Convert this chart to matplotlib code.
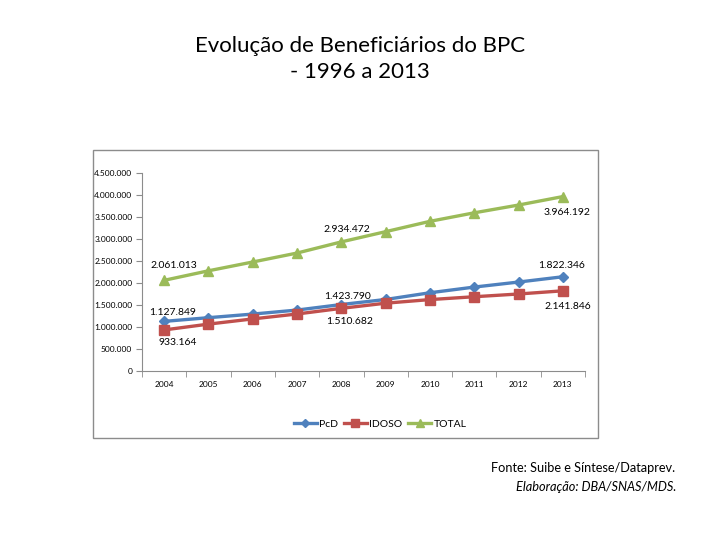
import matplotlib.pyplot as plt
from matplotlib.patches import Rectangle

plt.rcParams['font.family'] = ['Lato', 'DejaVu Sans']

# data
years = ['2004', '2005', '2006', '2007', '2008', '2009', '2010', '2011', '2012', '2013']
pcd = [1127849, 1211761, 1293645, 1385107, 1510682, 1625625, 1778345, 1907511, 2021721, 2141846]
idoso = [933164, 1065604, 1183840, 1295716, 1423790, 1541220, 1623196, 1687826, 1750121, 1822346]
total = [2061013, 2277365, 2477485, 2680823, 2934472, 3166845, 3401541, 3595337, 3771842, 3964192]
yticks = [0, 500000, 1000000, 1500000, 2000000, 2500000, 3000000, 3500000, 4000000, 4500000]
ytick_labels = ['0', '500.000', '1.000.000', '1.500.000', '2.000.000', '2.500.000',
                '3.000.000', '3.500.000', '4.000.000', '4.500.000']

# labels shown on the chart: (series, year index, text, offset in px)
point_labels = [
    ('total', 0, '2.061.013', (10, 15)),
    ('pcd', 0, '1.127.849', (8, 9)),
    ('idoso', 0, '933.164', (14, -13)),
    ('total', 4, '2.934.472', (6, 12)),
    ('pcd', 4, '1.423.790', (6, 8)),
    ('idoso', 4, '1.510.682', (8, -13)),
    ('total', 9, '3.964.192', (4, -16)),
    ('pcd', 9, '1.822.346', (-1, 11)),
    ('idoso', 9, '2.141.846', (5, -16)),
]

W, H = 720, 540
fig = plt.figure(figsize=(7.2, 5.4), dpi=100)

# chart frame
fig.patches.append(Rectangle((93 / W, 1 - 438 / H), (598 - 93) / W, (438 - 150) / H,
                             transform=fig.transFigure, fill=False,
                             edgecolor='#8c8c8c', linewidth=1.0))

ax = fig.add_axes([142 / W, 1 - 371 / H, (585 - 142) / W, (371 - 173) / H])
x = list(range(len(years)))
series = {
    'pcd': ax.plot(x, pcd, color='#4F81BD', lw=2.4, marker='D', ms=5, label='PcD')[0],
    'idoso': ax.plot(x, idoso, color='#C0504D', lw=2.4, marker='s', ms=6.5, label='IDOSO')[0],
    'total': ax.plot(x, total, color='#9BBB59', lw=2.4, marker='^', ms=7.5, label='TOTAL')[0],
}
values = {'pcd': pcd, 'idoso': idoso, 'total': total}

for key, i, txt, off in point_labels:
    ax.annotate(txt, (x[i], values[key][i]), xytext=off, textcoords='offset pixels',
                ha='center', va='center', fontsize=7.5, color='#000000')

ax.set_xlim(-0.5, len(years) - 0.5)
ax.set_ylim(0, 4500000)
ax.set_yticks(yticks)
ax.set_yticklabels(ytick_labels, fontsize=6)
ax.set_xticks(x)
ax.set_xticklabels(years, fontsize=6)
ax.set_xticks([i - 0.5 for i in range(len(years) + 1)], minor=True)
ax.tick_params(axis='x', which='major', length=0, pad=7)
ax.tick_params(axis='x', which='minor', length=4, color='#8c8c8c')
ax.tick_params(axis='y', length=4, color='#8c8c8c', pad=3)
for s in ['top', 'right']:
    ax.spines[s].set_visible(False)
for s in ['left', 'bottom']:
    ax.spines[s].set_color('#8c8c8c')
    ax.spines[s].set_linewidth(0.8)

fig.legend(handles=[series['pcd'], series['idoso'], series['total']], loc='center',
           bbox_to_anchor=(380 / W, 1 - 424 / H), ncol=3, frameon=False, fontsize=7.5,
           handlelength=2.2, handletextpad=0.2, columnspacing=0.6, markerscale=0.8)

# title and source
fig.text(360 / W, 1 - 46 / H, 'Evolução de Beneficiários do BPC', ha='center', va='center',
         fontsize=16, color='#000000')
fig.text(360 / W, 1 - 72 / H, '- 1996 a 2013', ha='center', va='center',
         fontsize=16, color='#000000')
fig.text(675 / W, 1 - 468 / H, 'Fonte: Suibe e Síntese/Dataprev.', ha='right', va='center',
         fontsize=9.2, color='#000000')
fig.text(676 / W, 1 - 487 / H, 'Elaboração: DBA/SNAS/MDS.', ha='right', va='center',
         fontsize=9.2, style='italic', color='#000000')

fig.savefig('out.png', dpi=100, facecolor='white')
